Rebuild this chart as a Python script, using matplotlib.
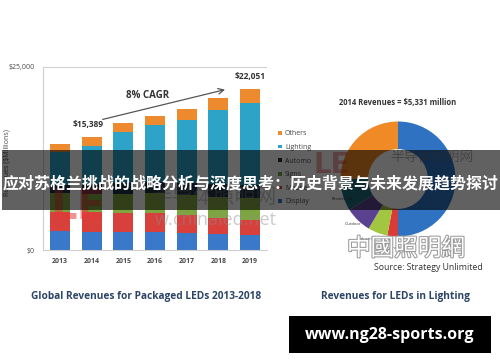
import numpy as np
import matplotlib.pyplot as plt
from matplotlib.patches import Rectangle
import matplotlib.patheffects as pe

# left chart: packaged LED revenues ($M), stacked bottom -> top
years = ['2013', '2014', '2015', '2016', '2017', '2018', '2019']
display = [2640, 2500, 2500, 2480, 2360, 2190, 2050]
mobile = [2600, 2700, 2600, 2550, 2400, 2200, 2050]
signs = [2500, 2500, 2600, 2700, 2800, 2900, 3000]
automo = [1200, 1300, 1400, 1500, 1600, 1700, 1800]
lighting = [4440, 5140, 7040, 7820, 8600, 10160, 11250]
others = [1100, 1250, 1250, 1300, 1500, 1650, 1900]
series_names = ['Display', 'Mobile', 'Signs', 'Automo', 'Lighting', 'Others']
series_colors = ['#3a78c9', '#d8403c', '#7ea640', '#1f3346', '#2ea3c8', '#ee8a2e']

# right chart: 2014 LED lighting revenue shares (%), clockwise from top
pie_labels = ['', 'Commercial', 'Industrial', 'Outdoor', 'Residential', '']
pie_shares = [50, 3, 5.5, 7.5, 9, 25]
pie_colors = ['#2f72c2', '#d93b36', '#a2c63f', '#5b4290', '#1d6b7c', '#f08a26']

W, H = 500, 362
fig = plt.figure(figsize=(5, 3.62), dpi=100)
fig.patch.set_facecolor('white')

def fx(px):
    return px / W

def fy(py):
    return 1 - py / H

txt = '#4a4a4a'
navy = '#2c4466'

# ---- stacked bars
ax = fig.add_axes([fx(43), fy(250), fx(224), 183 / H])
x = np.arange(len(years))
bottom = np.zeros(len(years))
for vals, name, col in zip([display, mobile, signs, automo, lighting, others],
                           series_names, series_colors):
    ax.bar(x, vals, 0.63, bottom=bottom, color=col, label=name, zorder=2)
    bottom = bottom + np.array(vals)
totals = bottom
ax.set_xlim(-0.54, 6.54)
ax.set_ylim(0, 25000)
ax.set_yticks([0, 25000])
ax.set_yticklabels(['$0', '$25,000'], fontsize=5, color=txt, family='Open Sans')
ax.set_xticks(x)
ax.set_xticklabels(years, fontsize=5, color=txt, family='Open Sans', fontweight='bold')
ax.tick_params(length=0, pad=6)
ax.axhline(25000, color='#cfcfcf', lw=0.8, zorder=1)
for s in ['top', 'right']:
    ax.spines[s].set_visible(False)
for s in ['left', 'bottom']:
    ax.spines[s].set_color('#cfcfcf')
    ax.spines[s].set_linewidth(0.8)

ax.text(1 - 0.12, totals[1] + 1100, '$15,389', ha='center', va='bottom',
        fontsize=6, fontweight='bold', color='#333333', family='Open Sans')
ax.text(6, totals[6] + 1000, '$22,051', ha='center', va='bottom',
        fontsize=6, fontweight='bold', color='#333333', family='Open Sans')
ax.annotate('', xy=(5.3, 22000), xytext=(1.26, 17750),
            arrowprops=dict(arrowstyle='->', color='#555555', lw=0.9))
ax.text(2.75, 21100, '8% CAGR', ha='center', va='center', fontsize=7,
        fontweight='bold', color='#333333', family='Open Sans')

fig.text(fx(7), fy(163), 'Revenues ($Millions)', rotation=90, ha='center',
         va='center', fontsize=5, color=txt, family='Open Sans')

handles, labels = ax.get_legend_handles_labels()
leg = fig.legend(handles[::-1], labels[::-1], loc='upper left',
                 bbox_to_anchor=(fx(275), fy(127)), frameon=False,
                 handlelength=0.45, handleheight=0.45,
                 handletextpad=0.5, labelspacing=0.95, borderpad=0,
                 prop={'family': 'Open Sans', 'size': 5})
for t in leg.get_texts():
    t.set_color(txt)

# ---- donut
ax2 = fig.add_axes([fx(340.5), fy(236.5), fx(115), 115 / H])
ax2.pie(pie_shares, colors=pie_colors, startangle=90, counterclock=False,
        wedgeprops=dict(width=0.48, edgecolor='none'))
ax2.set_xlim(-1, 1)
ax2.set_ylim(-1, 1)
ax2.set_aspect('equal')
fig.text(fx(398), fy(103), '2014 Revenues = $5,331 million', ha='center',
         va='center', fontsize=5.5, fontweight='bold', color='#333333', family='Open Sans')
label_pos = {'Residential': (342, 199), 'Outdoor': (353, 224),
             'Industrial': (367, 239), 'Commercial': (390, 248)}
for name in pie_labels:
    if name:
        px, py = label_pos[name]
        fig.text(fx(px), fy(py), name, ha='center', va='center', fontsize=3,
                 color='#333333', family='Open Sans')

# ---- watermarks
cjk = ['Noto Sans CJK SC', 'DejaVu Sans']
fig.text(fx(50), fy(207), 'LE', fontsize=30, fontweight='bold', color='#e33a3a',
         alpha=0.55, ha='left', va='center', family='DejaVu Sans')
fig.text(fx(215), fy(197), '半导体照明网', fontsize=15, color='#8a8a8a', alpha=0.45,
         ha='center', va='center', family=cjk)
fig.text(fx(216), fy(220), 'w.chinaled.net', fontsize=13, color='#8a8a8a', alpha=0.45,
         ha='center', va='center', family='Open Sans')
fig.text(fx(314), fy(165), 'LE', fontsize=20, fontweight='bold', color='#e33a3a',
         alpha=0.45, ha='left', va='center', family='DejaVu Sans')
fig.text(fx(432), fy(157), '半导体照明网', fontsize=10, color='#6a6a6a', alpha=0.5,
         ha='center', va='center', family=cjk)
wm = fig.text(fx(406), fy(249), '中國照明網', fontsize=17, color='white',
              ha='center', va='center', family=cjk, zorder=12)
wm.set_path_effects([pe.withStroke(linewidth=1.5, foreground='#9a9a9a')])
fig.text(fx(428), fy(267), 'Source: Strategy Unlimited', ha='center',
         va='center', fontsize=6.3, color='#333333', family='Open Sans', zorder=13)

# ---- chart titles
fig.text(fx(146), fy(296), 'Global Revenues for Packaged LEDs 2013-2018', ha='center',
         va='center', fontsize=7.3, fontweight='bold', color=navy, family='Open Sans')
fig.text(fx(395), fy(296), 'Revenues for LEDs in Lighting', ha='center',
         va='center', fontsize=7.3, fontweight='bold', color=navy, family='Open Sans')

# ---- banner over the middle
fig.add_artist(Rectangle((fx(2), fy(210)), fx(498), 60 / H, transform=fig.transFigure,
                         facecolor='black', alpha=0.62, edgecolor='none', zorder=10))
fig.text(fx(251), fy(183), '应对苏格兰挑战的战略分析与深度思考：历史背景与未来发展趋势探讨',
         ha='center', va='center', fontsize=11.5, fontweight='bold', color='white',
         family=cjk, zorder=11)

# ---- footer box
fig.add_artist(Rectangle((fx(289), fy(353)), fx(202), 37 / H, transform=fig.transFigure,
                         facecolor='black', edgecolor='none', zorder=10))
fig.text(fx(390), fy(335), 'www.ng28-sports.org', ha='center', va='center',
         fontsize=11.5, fontweight='bold', color='white', family='Open Sans', zorder=11)

fig.savefig('out.png', dpi=100)
